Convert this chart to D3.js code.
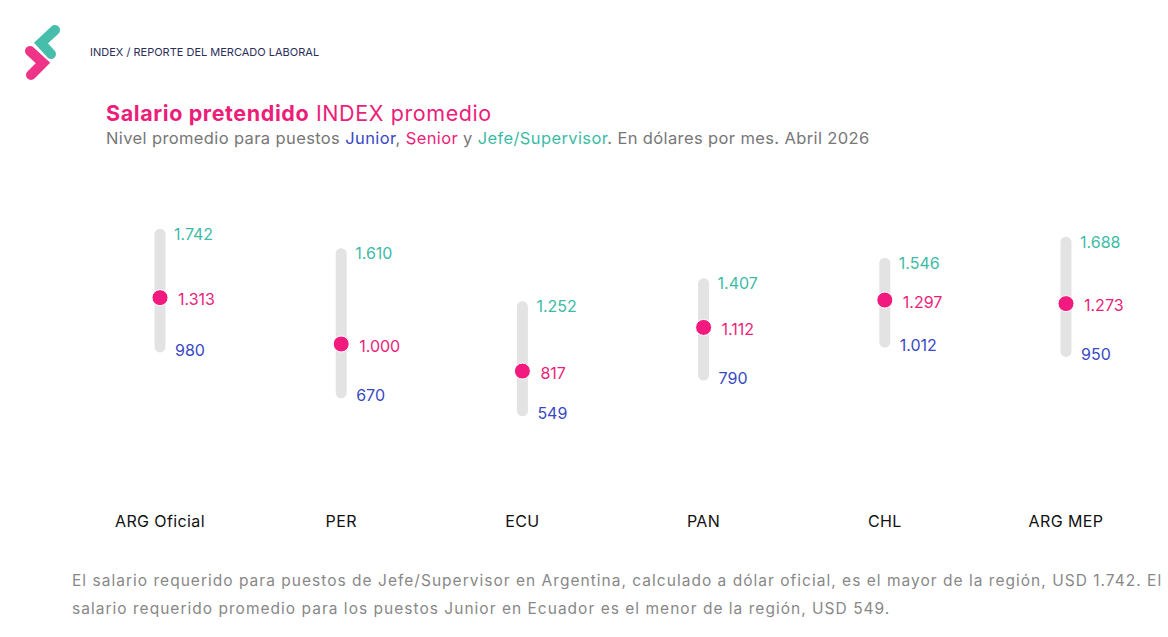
<!DOCTYPE html>
<html>
<head>
<meta charset="utf-8">
<script src="https://cdn.jsdelivr.net/npm/d3@7"></script>
<style>
  body { margin: 0; background: #fff; font-family: Inter, "Noto Sans", sans-serif; }
  #chart { width: 1168px; height: 637px; }
</style>
</head>
<body>
<div id="chart"></div>
<script>
// Data
const countries = ["ARG Oficial", "PER", "ECU", "PAN", "CHL", "ARG MEP"];
const junior = [980, 670, 549, 790, 1012, 950];
const senior = [1313, 1000, 817, 1112, 1297, 1273];
const jefe = [1742, 1610, 1252, 1407, 1546, 1688];

const pink = "#ec1e79", teal = "#3dbba6", blue = "#3949c2", gray = "#e3e3e3";

const fmt = d3.formatLocale({decimal: ",", thousands: ".", grouping: [3], currency: ["", ""]}).format(",d");

const width = 1168, height = 637;

const svg = d3.select("#chart").append("svg")
    .attr("width", width)
    .attr("height", height);

// Logo
const logo = svg.append("g");
logo.append("path")
    .attr("d", "M55,30 L41,43 L51,54")
    .attr("fill", "none").attr("stroke", teal).attr("stroke-width", 10)
    .attr("stroke-linecap", "round").attr("stroke-linejoin", "miter").attr("opacity", 0.95);
logo.append("path")
    .attr("d", "M30,51 L43,63 L31,75")
    .attr("fill", "none").attr("stroke", pink).attr("stroke-width", 10)
    .attr("stroke-linecap", "round").attr("stroke-linejoin", "miter").attr("opacity", 0.9);

svg.append("text")
    .attr("x", 90).attr("y", 56)
    .attr("font-size", 11).attr("fill", "#2b2f5a")
    .text("INDEX / REPORTE DEL MERCADO LABORAL");

// Title
const title = svg.append("text").attr("x", 106).attr("y", 121).attr("font-size", 21.5)
    .attr("letter-spacing", 0.6).attr("fill", pink);
title.append("tspan").attr("font-weight", 700).text("Salario pretendido");
title.append("tspan").text(" INDEX promedio");

const sub = svg.append("text").attr("x", 106).attr("y", 144).attr("font-size", 16.5)
    .attr("letter-spacing", 0.38).attr("fill", "#777");
sub.append("tspan").text("Nivel promedio para puestos ");
sub.append("tspan").attr("fill", blue).text("Junior");
sub.append("tspan").text(", ");
sub.append("tspan").attr("fill", pink).text("Senior");
sub.append("tspan").text(" y ");
sub.append("tspan").attr("fill", teal).text("Jefe/Supervisor");
sub.append("tspan").text(". En dólares por mes. Abril 2026");

// Scales
const x = d3.scalePoint().domain(countries).range([160, 1066]);
const y = d3.scaleLinear().domain([0, 2000]).range([492, 196]);

const data = countries.map((c, i) => ({c, j: junior[i], s: senior[i], b: jefe[i]}));

const g = svg.append("g");

g.selectAll(".bar").data(data).enter().append("line")
    .attr("x1", d => x(d.c)).attr("x2", d => x(d.c))
    .attr("y1", d => y(d.b)).attr("y2", d => y(d.j))
    .attr("stroke", gray).attr("stroke-width", 11).attr("stroke-linecap", "round");

g.selectAll(".dot").data(data).enter().append("circle")
    .attr("cx", d => x(d.c)).attr("cy", d => y(d.s))
    .attr("r", 8).attr("fill", "#f21a7f").attr("stroke", "#fff").attr("stroke-width", 1);

g.selectAll(".lb").data(data).enter().append("text")
    .attr("x", d => x(d.c) + 14).attr("y", d => y(d.b)).attr("dy", "0.35em")
    .attr("font-size", 16).attr("fill", teal).text(d => fmt(d.b));

g.selectAll(".ls").data(data).enter().append("text")
    .attr("x", d => x(d.c) + 18).attr("y", d => y(d.s) + 2).attr("dy", "0.35em")
    .attr("font-size", 16).attr("fill", pink).text(d => fmt(d.s));

g.selectAll(".lj").data(data).enter().append("text")
    .attr("x", d => x(d.c) + 15).attr("y", d => y(d.j) + 3).attr("dy", "0.35em")
    .attr("font-size", 16).attr("fill", blue).text(d => fmt(d.j));

// Category axis labels
g.selectAll(".cat").data(countries).enter().append("text")
    .attr("x", d => x(d)).attr("y", 527)
    .attr("text-anchor", "middle").attr("font-size", 16).attr("letter-spacing", 0.4).attr("fill", "#111")
    .text(d => d);

// Footnote
const foot = svg.append("text").attr("font-size", 15.5).attr("letter-spacing", 1.02).attr("fill", "#888");
foot.append("tspan").attr("x", 72).attr("y", 586)
    .text("El salario requerido para puestos de Jefe/Supervisor en Argentina, calculado a dólar oficial, es el mayor de la región, USD 1.742. El");
foot.append("tspan").attr("x", 72).attr("y", 614)
    .text("salario requerido promedio para los puestos Junior en Ecuador es el menor de la región, USD 549.");
</script>
</body>
</html>
